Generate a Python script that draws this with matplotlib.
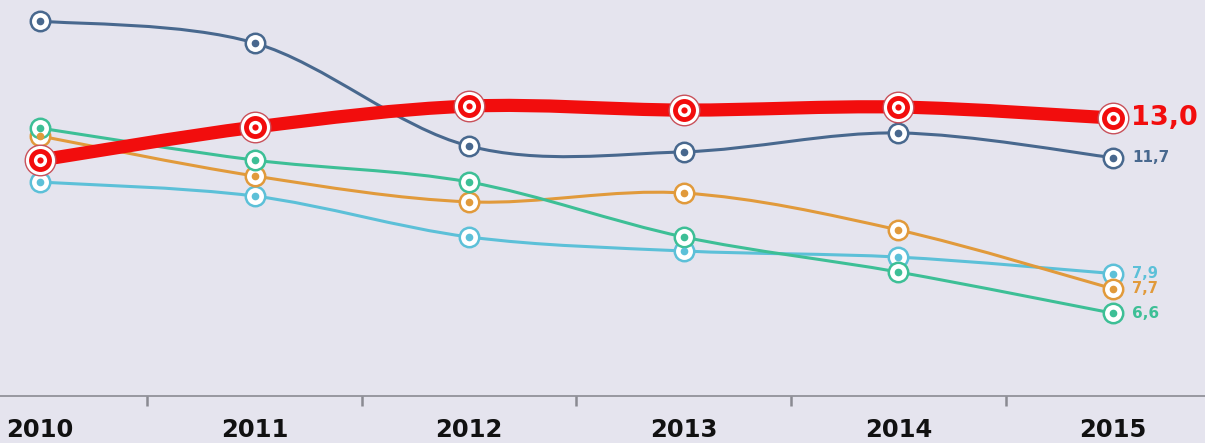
import numpy as np
import matplotlib.pyplot as plt
from matplotlib.path import Path
from matplotlib.patches import PathPatch

years = [2010, 2011, 2012, 2013, 2014, 2015]

# values
dark_blue = [16.18, 15.46, 12.08, 11.89, 12.51, 11.70]
red = [11.62, 12.70, 13.39, 13.26, 13.36, 13.00]
green = [12.67, 11.62, 10.90, 9.10, 7.95, 6.60]
orange = [12.41, 11.10, 10.25, 10.54, 9.33, 7.40]
light_blue = [10.90, 10.44, 9.10, 8.64, 8.44, 7.90]

end_labels = ["11,7", "13,0", "6,6", "7,7", "7,9"]

c_dark = "#48688e"
c_red = "#f20d0d"
c_green = "#3dbf96"
c_orange = "#e19a3b"
c_light = "#5cc0d8"
bg = "#e5e4ee"


def smooth(ax, xs, ys, color, lw, z):
    # catmull-rom through the points, drawn as bezier segments
    pts = np.column_stack([xs, ys]).astype(float)
    p = np.vstack([pts[0], pts, pts[-1]])
    verts = [tuple(pts[0])]
    codes = [Path.MOVETO]
    for i in range(1, len(p) - 2):
        c1 = p[i] + (p[i + 1] - p[i - 1]) / 6
        c2 = p[i + 1] - (p[i + 2] - p[i]) / 6
        verts += [tuple(c1), tuple(c2), tuple(p[i + 1])]
        codes += [Path.CURVE4] * 3
    ax.add_patch(PathPatch(Path(verts, codes), fill=False, edgecolor=color,
                           lw=lw, capstyle="round", zorder=z))


fig = plt.figure(figsize=(12.05, 4.43), dpi=100)
fig.patch.set_facecolor(bg)
ax = fig.add_axes([0, 47 / 443, 1, 396 / 443])
ax.set_facecolor(bg)
ax.set_xlim(2009.814, 2015.429)
ax.set_ylim(3.885, 16.869)

for s, col in [(dark_blue, c_dark), (light_blue, c_light), (orange, c_orange), (green, c_green)]:
    smooth(ax, years, s, col, 2.2, 2)
    ax.plot(years, s, "o", ms=14, mfc="white", mec=col, mew=1.8, zorder=3)
    ax.plot(years, s, "o", ms=4.5, color=col, zorder=4)

smooth(ax, years, red, c_red, 9.5, 5)
ax.plot(years, red, "o", ms=22, mfc="white", mec="#c8505a", mew=1, zorder=6)
ax.plot(years, red, "o", ms=16.5, color=c_red, mew=0, zorder=7)
ax.plot(years, red, "o", ms=9.5, color="white", mew=0, zorder=8)
ax.plot(years, red, "o", ms=4.5, color=c_red, mew=0, zorder=9)

# labels at the end of the lines
ax.annotate(end_labels[1], (years[-1], red[-1]), xytext=(13, 0), textcoords="offset points",
            color=c_red, fontsize=19.5, fontweight="bold", va="center", ha="left")
ax.annotate(end_labels[0], (years[-1], dark_blue[-1]), xytext=(14, 0), textcoords="offset points",
            color=c_dark, fontsize=11, fontweight="bold", va="center", ha="left")
ax.annotate(end_labels[4], (years[-1], light_blue[-1]), xytext=(14, 0), textcoords="offset points",
            color=c_light, fontsize=10.5, fontweight="bold", va="center", ha="left")
ax.annotate(end_labels[3], (years[-1], orange[-1]), xytext=(14, 0), textcoords="offset points",
            color=c_orange, fontsize=10.5, fontweight="bold", va="center", ha="left")
ax.annotate(end_labels[2], (years[-1], green[-1]), xytext=(14, 0), textcoords="offset points",
            color=c_green, fontsize=11, fontweight="bold", va="center", ha="left")

for sp in ["top", "left", "right"]:
    ax.spines[sp].set_visible(False)
ax.spines["bottom"].set_color("#8a8a92")
ax.spines["bottom"].set_linewidth(1.2)
ax.set_yticks([])
ax.set_xticks(years)
ax.set_xticklabels([str(y) for y in years], fontsize=17.5, fontweight="bold", color="#111111")
ax.tick_params(axis="x", which="major", length=0, pad=16)
ax.set_xticks([y + 0.5 for y in years[:-1]], minor=True)
ax.tick_params(axis="x", which="minor", length=7, width=1.8, color="#8a8a92", direction="out")

fig.savefig("out.png", dpi=100, facecolor=bg)
